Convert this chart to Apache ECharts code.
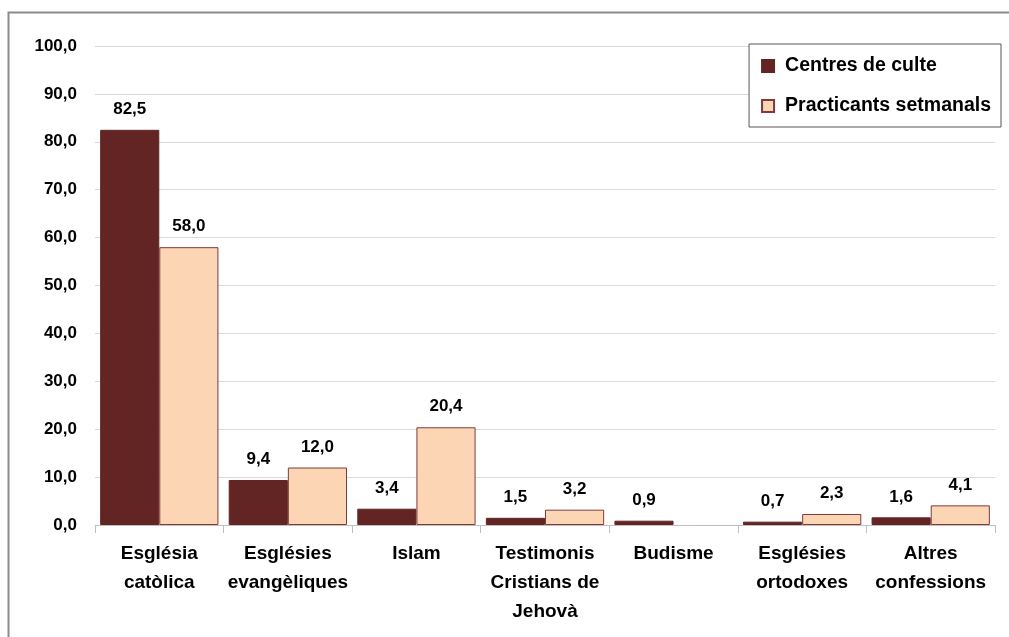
<!DOCTYPE html>
<html>
<head>
<meta charset="utf-8">
<script src="https://cdn.jsdelivr.net/npm/echarts@6/dist/echarts.min.js"></script>
<style>
  html, body { margin: 0; padding: 0; background: #fff; }
  #chart { width: 1009px; height: 637px; }
</style>
</head>
<body>
<div id="chart"></div>
<script>
var categories = ['Església\ncatòlica', 'Esglésies\nevangèliques', 'Islam', 'Testimonis\nCristians de\nJehovà', 'Budisme', 'Esglésies\nortodoxes', 'Altres\nconfessions'];
var centres = [82.5, 9.4, 3.4, 1.5, 0.9, 0.7, 1.6];
var practicants = [58.0, 12.0, 20.4, 3.2, null, 2.3, 4.1];
var yTicks = [0, 10, 20, 30, 40, 50, 60, 70, 80, 90, 100];

var FONT = '"Liberation Sans", Arial, sans-serif';

function fmt(v) {
  return v.toFixed(1).replace('.', ',');
}

var chart = echarts.init(document.getElementById('chart'));

var option = {
  animation: false,
  textStyle: { fontFamily: FONT },
  graphic: [{
    type: 'rect',
    shape: { x: 8.5, y: 12.5, width: 1010, height: 640 },
    style: { fill: 'none', stroke: '#8c8c8c', lineWidth: 2 },
    silent: true
  }],
  grid: { left: 95, right: 14, top: 46, bottom: 112 },
  legend: {
    orient: 'vertical',
    right: 8,
    top: 44,
    itemWidth: 12,
    itemHeight: 12,
    itemGap: 20,
    padding: [12, 10, 11, 12],
    borderColor: '#555',
    borderWidth: 1,
    backgroundColor: '#fff',
    icon: 'rect',
    textStyle: { fontFamily: FONT, fontSize: 19.5, fontWeight: 'bold', color: '#000', padding: [0, 0, 0, 6] },
    data: ['Centres de culte', 'Practicants setmanals']
  },
  xAxis: {
    type: 'category',
    data: categories,
    axisLine: { lineStyle: { color: '#bfbfbf', width: 1 } },
    axisTick: { show: true, length: 8, lineStyle: { color: '#bfbfbf' } },
    axisLabel: {
      interval: 0,
      margin: 14,
      fontFamily: FONT,
      fontSize: 19,
      fontWeight: 'bold',
      color: '#000',
      lineHeight: 29
    }
  },
  yAxis: {
    type: 'value',
    min: 0,
    max: 100,
    interval: 10,
    axisLine: { show: false },
    axisTick: { show: false },
    splitLine: { lineStyle: { color: '#d9d9d9' } },
    axisLabel: {
      margin: 18,
      fontFamily: FONT,
      fontSize: 17,
      fontWeight: 'bold',
      color: '#000',
      formatter: function (v) { return yTicks.indexOf(v) >= 0 ? fmt(v) : ''; }
    }
  },
  series: [{
    name: 'Centres de culte',
    type: 'bar',
    data: centres,
    barGap: '0%',
    barCategoryGap: '8%',
    itemStyle: { color: '#632523', borderColor: '#632523', borderWidth: 1 },
    label: {
      show: true,
      position: 'top',
      distance: 12,
      fontFamily: FONT,
      fontSize: 17,
      fontWeight: 'bold',
      color: '#000',
      formatter: function (p) { return fmt(p.value); }
    }
  }, {
    name: 'Practicants setmanals',
    type: 'bar',
    data: practicants,
    itemStyle: { color: '#fcd5b5', borderColor: '#7f3a3a', borderWidth: 1 },
    label: {
      show: true,
      position: 'top',
      distance: 12,
      fontFamily: FONT,
      fontSize: 17,
      fontWeight: 'bold',
      color: '#000',
      formatter: function (p) { return p.value == null ? '' : fmt(p.value); }
    }
  }]
};

chart.setOption(option);
</script>
</body>
</html>
